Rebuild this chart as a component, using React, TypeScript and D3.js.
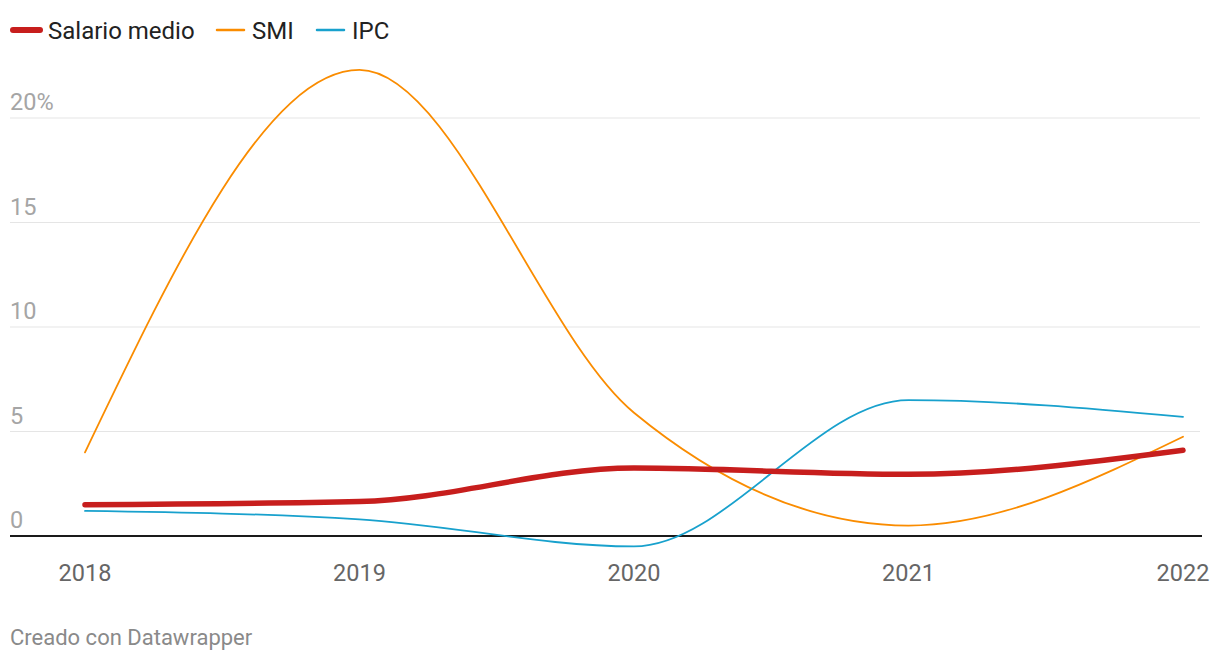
import React from "react";
import * as d3 from "d3";

const years = [2018, 2019, 2020, 2021, 2022];
const salarioMedio = [1.5, 1.65, 3.25, 2.95, 4.1];
const smi = [4.0, 22.3, 5.9, 0.5, 4.75];
const ipc = [1.2, 0.8, -0.5, 6.5, 5.7];
const yTicks = [0, 5, 10, 15, 20];

const seriesList = [
  { name: "Salario medio", values: salarioMedio, color: "#c71e1d", width: 5.5 },
  { name: "SMI", values: smi, color: "#fa8c00", width: 1.8 },
  { name: "IPC", values: ipc, color: "#18a1cd", width: 1.8 },
];

export default function App() {
  const W = 1220, H = 664;
  const x = d3.scalePoint<number>().domain(years).range([85, 1183]);
  const y = d3.scaleLinear().domain([0, 20]).range([536, 118]);
  const line = d3
    .line<number>()
    .x((_, i) => x(years[i]) as number)
    .y((d) => y(d))
    .curve(d3.curveMonotoneX);

  const legendX = [10, 214, 314];
  const drawOrder = [1, 2, 0];

  return (
    <svg
      width={W}
      height={H}
      style={{ position: "absolute", left: 0, top: 0, fontFamily: "Roboto, sans-serif" }}
    >
      <rect width={W} height={H} fill="#fff" />
      {seriesList.map((s, i) => (
        <g key={s.name}>
          <line
            x1={legendX[i] + 3}
            x2={legendX[i] + 30}
            y1={30}
            y2={30}
            stroke={s.color}
            strokeWidth={i === 0 ? 6 : 2.5}
            strokeLinecap="round"
          />
          <text x={legendX[i] + 38} y={38.5} fontSize={24} fill="#222">
            {s.name}
          </text>
        </g>
      ))}
      {yTicks.map((t) => (
        <g key={t}>
          {t !== 0 && (
            <line x1={10} x2={1200} y1={y(t)} y2={y(t)} stroke="#e5e5e5" strokeWidth={1.2} />
          )}
          <text x={10} y={y(t) - 8} fontSize={23.5} fill="#a5a5a5">
            {t === 20 ? "20%" : String(t)}
          </text>
        </g>
      ))}
      <line x1={10} x2={1202} y1={y(0)} y2={y(0)} stroke="#1a1a1a" strokeWidth={2} />
      {years.map((yr) => (
        <text
          key={yr}
          x={x(yr) as number}
          y={581}
          fontSize={23.5}
          fill="#666"
          textAnchor="middle"
        >
          {yr}
        </text>
      ))}
      {drawOrder.map((i) => {
        const s = seriesList[i];
        return (
          <path
            key={s.name}
            d={line(s.values) || ""}
            fill="none"
            stroke={s.color}
            strokeWidth={s.width}
            strokeLinecap="round"
            strokeLinejoin="round"
          />
        );
      })}
      <text x={10} y={645} fontSize={22} fill="#8a8a8a">
        Creado con Datawrapper
      </text>
    </svg>
  );
}
